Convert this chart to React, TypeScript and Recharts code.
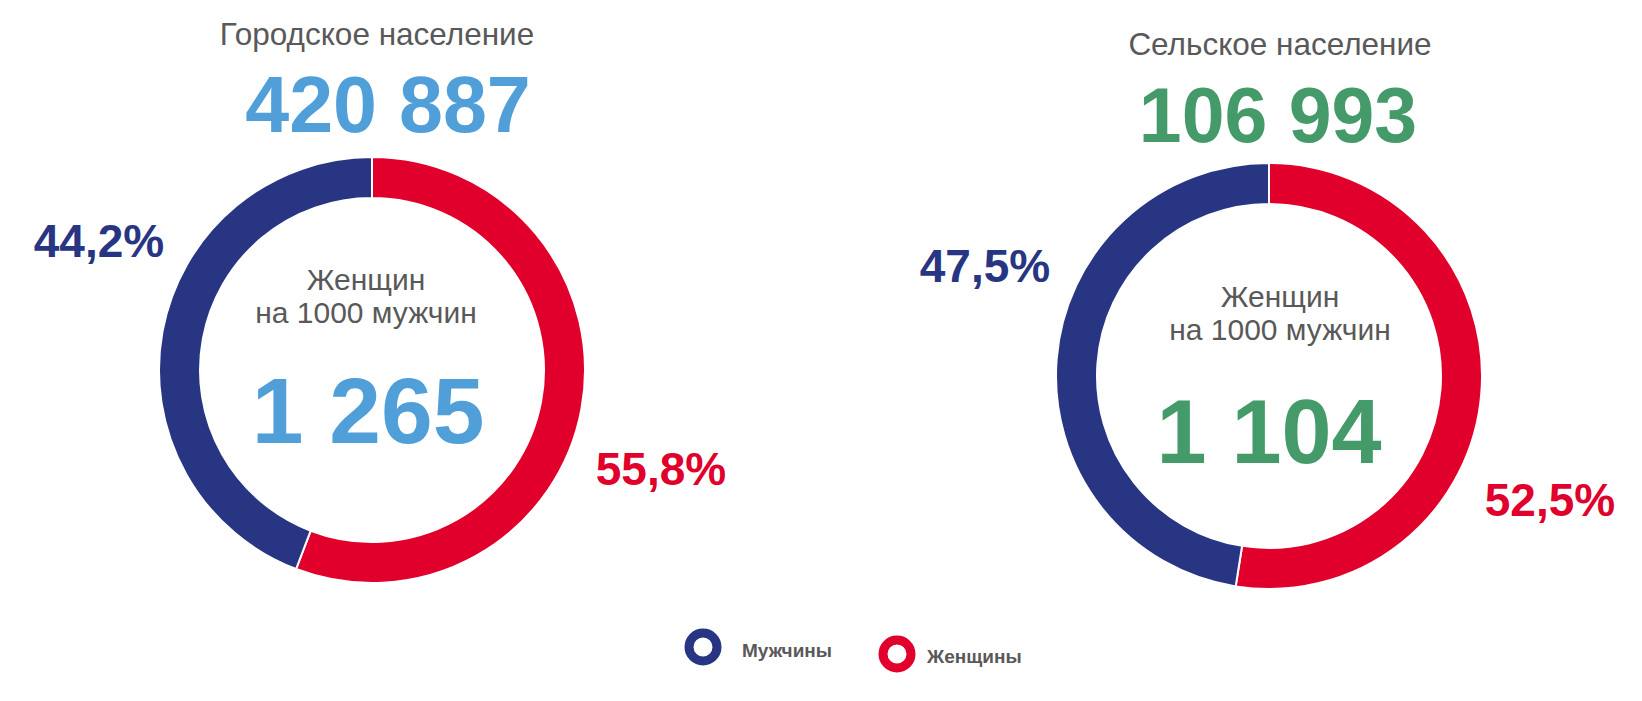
import { PieChart, Pie, Cell } from 'recharts';

// shares in percent, order: women first (clockwise from 12 o'clock), then men
const sexLabels = ['Женщины', 'Мужчины'];
const urbanShares = [55.8, 44.2];
const ruralShares = [52.5, 47.5];

const urbanTotal = 420887;
const ruralTotal = 106993;
const urbanWomenPer1000 = 1265;
const ruralWomenPer1000 = 1104;

const panelTitles = ['Городское население', 'Сельское население'];
const centerCaption = ['Женщин', 'на 1000 мужчин'];
const legendLabels = ['Мужчины', 'Женщины'];

const RED = '#e0002b';
const NAVY = '#283583';
const SKY = '#519fd9';
const GREEN = '#449a68';
const GRAY = '#595959';
const FONT = "'Liberation Sans', Arial, sans-serif";

const fmtInt = (n: number) => n.toString().replace(/\B(?=(\d{3})+(?!\d))/g, ' ');
const fmtPct = (n: number) => n.toFixed(1).replace('.', ',') + '%';

const toRows = (shares: number[]) => shares.map((v, i) => ({ name: sexLabels[i], value: v }));

const SIZE = 460;

function Donut({ shares, cx, cy }: { shares: number[]; cx: number; cy: number }) {
    return (
        <div style={{ position: 'absolute', left: cx - SIZE / 2, top: cy - SIZE / 2 }}>
            <PieChart width={SIZE} height={SIZE}>
                <Pie
                    data={toRows(shares)}
                    dataKey="value"
                    cx="50%"
                    cy="50%"
                    innerRadius={172}
                    outerRadius={213}
                    startAngle={90}
                    endAngle={-270}
                    stroke="#ffffff"
                    strokeWidth={2}
                    isAnimationActive={false}
                >
                    <Cell fill={RED} />
                    <Cell fill={NAVY} />
                </Pie>
            </PieChart>
        </div>
    );
}

export default function App() {
    return (
        <div style={{ position: 'absolute', left: 0, top: 0, width: 1642, height: 701, background: '#fff', overflow: 'hidden' }}>
            <Donut shares={urbanShares} cx={372} cy={370} />
            <Donut shares={ruralShares} cx={1269} cy={376} />

            <svg width={1642} height={701} style={{ position: 'absolute', left: 0, top: 0, pointerEvents: 'none' }} fontFamily={FONT}>
                {/* urban */}
                <text x={377} y={45} textAnchor="middle" fontSize={31.5} fill={GRAY}>{panelTitles[0]}</text>
                <text x={388} y={132} textAnchor="middle" fontSize={79} fontWeight="bold" fill={SKY}>{fmtInt(urbanTotal)}</text>
                <text x={366} y={290} textAnchor="middle" fontSize={30} fill={GRAY}>{centerCaption[0]}</text>
                <text x={366} y={323} textAnchor="middle" fontSize={30} fill={GRAY}>{centerCaption[1]}</text>
                <text x={368} y={443} textAnchor="middle" fontSize={93} fontWeight="bold" fill={SKY}>{fmtInt(urbanWomenPer1000)}</text>
                <text x={99} y={257} textAnchor="middle" fontSize={46} fontWeight="bold" fill={NAVY}>{fmtPct(urbanShares[1])}</text>
                <text x={661} y={485} textAnchor="middle" fontSize={46} fontWeight="bold" fill={RED}>{fmtPct(urbanShares[0])}</text>

                {/* rural */}
                <text x={1280} y={55} textAnchor="middle" fontSize={31.5} fill={GRAY}>{panelTitles[1]}</text>
                <text x={1278} y={142} textAnchor="middle" fontSize={77} fontWeight="bold" fill={GREEN}>{fmtInt(ruralTotal)}</text>
                <text x={1280} y={307} textAnchor="middle" fontSize={30} fill={GRAY}>{centerCaption[0]}</text>
                <text x={1280} y={340} textAnchor="middle" fontSize={30} fill={GRAY}>{centerCaption[1]}</text>
                <text x={1269} y={463} textAnchor="middle" fontSize={90} fontWeight="bold" fill={GREEN}>{fmtInt(ruralWomenPer1000)}</text>
                <text x={985} y={282} textAnchor="middle" fontSize={46} fontWeight="bold" fill={NAVY}>{fmtPct(ruralShares[1])}</text>
                <text x={1550} y={516} textAnchor="middle" fontSize={46} fontWeight="bold" fill={RED}>{fmtPct(ruralShares[0])}</text>

                {/* legend */}
                <circle cx={703} cy={647} r={14} fill="none" stroke={NAVY} strokeWidth={9} />
                <text x={742} y={657} fontSize={19} fontWeight="bold" fill={GRAY}>{legendLabels[0]}</text>
                <circle cx={897} cy={654} r={14} fill="none" stroke={RED} strokeWidth={9} />
                <text x={927} y={663} fontSize={19} fontWeight="bold" fill={GRAY}>{legendLabels[1]}</text>
            </svg>
        </div>
    );
}
